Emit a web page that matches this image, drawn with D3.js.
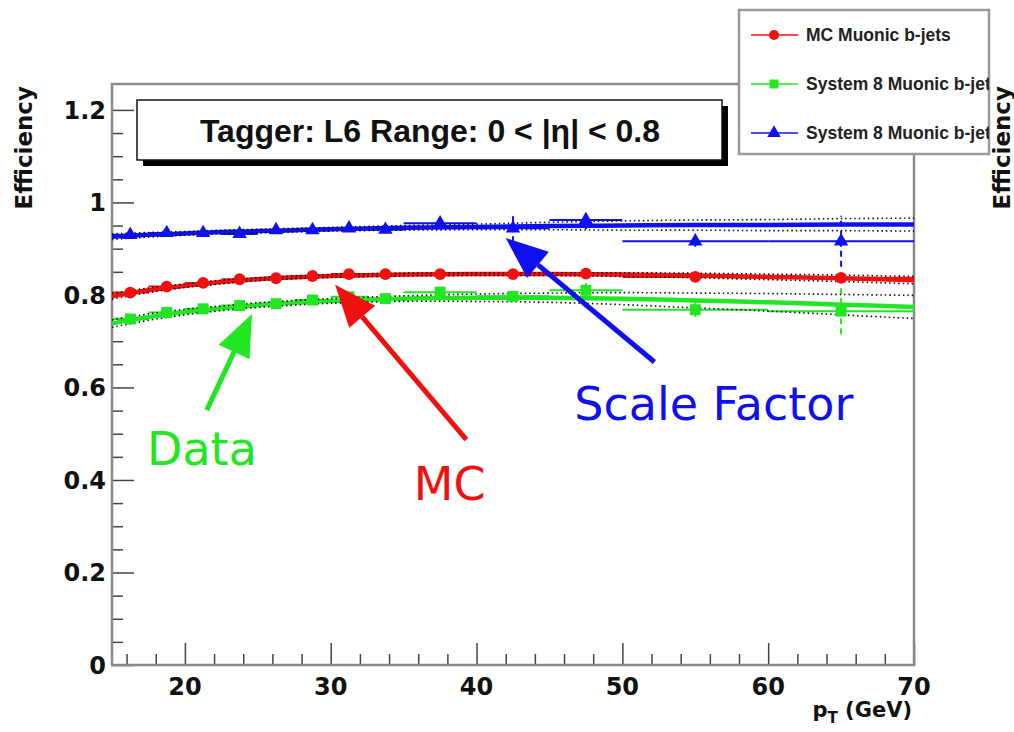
<!DOCTYPE html>
<html>
<head>
<meta charset="utf-8">
<style>
  body { margin: 0; background: #fff; }
  svg { display: block; }
  .tick-label { font: bold 24px "DejaVu Sans", sans-serif; fill: #111; }
  .axis-title { font: bold 21px "DejaVu Sans", sans-serif; fill: #111; }
</style>
</head>
<body>
<svg width="1014" height="732"></svg>
<script src="https://cdn.jsdelivr.net/npm/d3@7"></script>
<script>
// bin centres and half widths (GeV)
var ptX    = [16.25, 18.75, 21.25, 23.75, 26.25, 28.75, 31.25, 33.75, 37.5, 42.5, 47.5, 55, 65];
var ptXErr = [1.25, 1.25, 1.25, 1.25, 1.25, 1.25, 1.25, 1.25, 2.5, 2.5, 2.5, 5, 5];

var mcEff   = [0.805, 0.818, 0.826, 0.834, 0.836, 0.841, 0.845, 0.845, 0.845, 0.845, 0.846, 0.839, 0.837];
var mcErr   = [0.004, 0.004, 0.004, 0.004, 0.004, 0.004, 0.004, 0.004, 0.004, 0.005, 0.005, 0.006, 0.008];
var dataEff = [0.748, 0.762, 0.770, 0.777, 0.781, 0.789, 0.796, 0.792, 0.806, 0.797, 0.810, 0.768, 0.765];
var dataErr = [0.006, 0.006, 0.006, 0.006, 0.006, 0.006, 0.007, 0.007, 0.008, 0.010, 0.015, 0.015, 0.050];
var sfEff   = [0.930, 0.934, 0.934, 0.932, 0.940, 0.940, 0.944, 0.941, 0.955, 0.944, 0.962, 0.916, 0.916];
var sfErr   = [0.007, 0.007, 0.007, 0.007, 0.007, 0.007, 0.008, 0.008, 0.012, 0.030, 0.020, 0.012, 0.055];

// fitted curves and their error bands
var fitX    = [15, 17.5, 20, 22.5, 25, 27.5, 30, 35, 40, 45, 50, 55, 60, 65, 70];
var mcFit   = [0.797, 0.810, 0.820, 0.828, 0.834, 0.838, 0.841, 0.844, 0.845, 0.845, 0.844, 0.842, 0.839, 0.836, 0.832];
var dataFit = [0.738, 0.752, 0.763, 0.771, 0.778, 0.783, 0.787, 0.792, 0.794, 0.794, 0.792, 0.788, 0.784, 0.779, 0.774];
var sfFit   = [0.926, 0.930, 0.933, 0.936, 0.938, 0.940, 0.942, 0.945, 0.947, 0.949, 0.950, 0.951, 0.951, 0.952, 0.952];
var mcBand   = [0.006, 0.005, 0.004, 0.004, 0.003, 0.003, 0.003, 0.003, 0.003, 0.003, 0.004, 0.005, 0.006, 0.007, 0.008];
var dataBand = [0.008, 0.007, 0.006, 0.005, 0.005, 0.005, 0.005, 0.006, 0.008, 0.010, 0.013, 0.016, 0.019, 0.022, 0.025];
var sfBand   = [0.006, 0.005, 0.004, 0.004, 0.004, 0.004, 0.004, 0.005, 0.006, 0.008, 0.010, 0.011, 0.012, 0.013, 0.014];

var xTicks = [20, 30, 40, 50, 60, 70];
var yTicks = [0, 0.2, 0.4, 0.6, 0.8, 1, 1.2];
var yTickLabels = ["0", "0.2", "0.4", "0.6", "0.8", "1", "1.2"];

var legendNames = ["MC Muonic b-jets", "System 8 Muonic b-jet", "System 8 Muonic b-jet"];
var titleText = "Tagger: L6 Range: 0 < |\u03b7| < 0.8";

// annotations: [label, text x, text y, arrow tail x, tail y, tip x, tip y] in data units
var notes = [
  ["Data",         17.4, 0.432, 21.5, 0.551, 24.6, 0.759],
  ["MC",           35.7, 0.357, 39.3, 0.487, 30.3, 0.822],
  ["Scale Factor", 46.7, 0.530, 52.2, 0.655, 42.0, 0.923]
];

var RED = "#f01010", GREEN = "#22e622", BLUE = "#1010ee";

var svg = d3.select("svg");
var x = d3.scaleLinear().domain([15, 70]).range([112, 914]);
var y = d3.scaleLinear().domain([0, 1.256]).range([665, 84]);

svg.append("defs").append("clipPath").attr("id", "plotclip")
  .append("rect").attr("x", 112).attr("y", 84).attr("width", 802).attr("height", 581);

// axes with inside ticks (ROOT style)
var xAxis = svg.append("g").attr("transform", "translate(0,665)");
xAxis.call(d3.axisTop(x).tickValues(d3.range(16, 70, 2).filter(function(v) { return v % 10; }))
  .tickSize(11).tickFormat(""));
xAxis.append("g").call(d3.axisTop(x).tickValues(xTicks).tickSize(22).tickFormat(""));
xAxis.selectAll(".domain").remove();
xAxis.selectAll("line").attr("stroke", "#444").attr("stroke-width", 1.5);
xAxis.selectAll(".lbl").data(xTicks).enter().append("text")
  .attr("class", "tick-label").attr("text-anchor", "middle")
  .attr("x", function(d) { return x(d); }).attr("y", 30)
  .text(function(d) { return d; });

var yAxis = svg.append("g").attr("transform", "translate(112,0)");
yAxis.call(d3.axisRight(y).tickValues(d3.range(0.05, 1.25, 0.05).filter(function(v) {
  return Math.abs(v / 0.2 - Math.round(v / 0.2)) > 0.01; }))
  .tickSize(11).tickFormat(""));
yAxis.append("g").call(d3.axisRight(y).tickValues(yTicks).tickSize(22).tickFormat(""));
yAxis.selectAll(".domain").remove();
yAxis.selectAll("line").attr("stroke", "#444").attr("stroke-width", 1.5);
yAxis.selectAll(".lbl").data(yTicks).enter().append("text")
  .attr("class", "tick-label").attr("text-anchor", "end")
  .attr("x", -6).attr("y", function(d) { return y(d); }).attr("dy", "0.36em")
  .text(function(d, i) { return yTickLabels[i]; });

// frame
svg.append("rect").attr("x", 112).attr("y", 84).attr("width", 802).attr("height", 581)
  .attr("fill", "none").attr("stroke", "#8a8a8a").attr("stroke-width", 2.5);

var plot = svg.append("g").attr("clip-path", "url(#plotclip)");

function curve(vals, off) {
  return d3.line().curve(d3.curveCatmullRom)
    .x(function(d, i) { return x(fitX[i]); })
    .y(function(d, i) { return y(d + (off ? off[i] : 0)); })(vals);
}
function neg(a) { return a.map(function(v) { return -v; }); }

var series = [
  {eff: sfEff,   err: sfErr,   fit: sfFit,   band: sfBand,   color: BLUE,  shape: d3.symbolTriangle, size: 90,  dash: "6,4"},
  {eff: mcEff,   err: mcErr,   fit: mcFit,   band: mcBand,   color: RED,   shape: d3.symbolCircle,   size: 110, dash: null},
  {eff: dataEff, err: dataErr, fit: dataFit, band: dataBand, color: GREEN, shape: d3.symbolSquare,   size: 120, dash: "6,4"}
];

series.forEach(function(s) {
  // x error bars
  plot.selectAll(null).data(s.eff).enter().append("line")
    .attr("x1", function(d, i) { return x(ptX[i] - ptXErr[i]); })
    .attr("x2", function(d, i) { return x(ptX[i] + ptXErr[i]); })
    .attr("y1", function(d) { return y(d); }).attr("y2", function(d) { return y(d); })
    .attr("stroke", s.color).attr("stroke-width", 2);
  // y error bars
  plot.selectAll(null).data(s.eff).enter().append("line")
    .attr("x1", function(d, i) { return x(ptX[i]); }).attr("x2", function(d, i) { return x(ptX[i]); })
    .attr("y1", function(d, i) { return y(d - s.err[i]); })
    .attr("y2", function(d, i) { return y(d + s.err[i]); })
    .attr("stroke", s.color).attr("stroke-width", 2).attr("stroke-dasharray", s.dash);
  // fit
  plot.append("path").attr("d", curve(s.fit)).attr("fill", "none")
    .attr("stroke", s.color).attr("stroke-width", 4.5);
  // dotted error band
  [s.band, neg(s.band)].forEach(function(b) {
    plot.append("path").attr("d", curve(s.fit, b)).attr("fill", "none")
      .attr("stroke", "#111").attr("stroke-width", 1.6).attr("stroke-dasharray", "1.5,3");
  });
  // markers
  plot.selectAll(null).data(s.eff).enter().append("path")
    .attr("d", d3.symbol().type(s.shape).size(s.size))
    .attr("transform", function(d, i) { return "translate(" + x(ptX[i]) + "," + y(d) + ")"; })
    .attr("fill", s.color);
});

// annotations
notes.forEach(function(n, k) {
  var col = [GREEN, RED, BLUE][k];
  var x0 = x(n[3]), y0 = y(n[4]), x1 = x(n[5]), y1 = y(n[6]);
  var a = Math.atan2(y1 - y0, x1 - x0), L = 42, W = 17;
  var bx = x1 - L * Math.cos(a), by = y1 - L * Math.sin(a);
  svg.append("line").attr("x1", x0).attr("y1", y0).attr("x2", bx).attr("y2", by)
    .attr("stroke", col).attr("stroke-width", 5);
  svg.append("polygon").attr("fill", col).attr("points", [
    [x1, y1],
    [bx + W * Math.sin(a), by - W * Math.cos(a)],
    [bx - W * Math.sin(a), by + W * Math.cos(a)]].join(" "));
  svg.append("text").attr("x", x(n[1])).attr("y", y(n[2]))
    .style("font", "46px 'DejaVu Sans', sans-serif").attr("fill", col).text(n[0]);
});

// title box
svg.append("rect").attr("x", 143).attr("y", 106).attr("width", 585).attr("height", 60).attr("fill", "#000");
svg.append("rect").attr("x", 137).attr("y", 100).attr("width", 585).attr("height", 60)
  .attr("fill", "#fff").attr("stroke", "#111").attr("stroke-width", 1.5);
svg.append("text").attr("x", 430).attr("y", 142).attr("text-anchor", "middle")
  .style("font", "bold 32px 'Liberation Sans', Arial, sans-serif").attr("fill", "#111").text(titleText);

// axis titles
svg.append("text").attr("class", "axis-title").attr("text-anchor", "end").style("font-size", "23px")
  .attr("transform", "translate(32,86) rotate(-90)").text("Efficiency");
svg.append("text").attr("class", "axis-title").attr("text-anchor", "end").style("font-size", "23px")
  .attr("transform", "translate(1010,86) rotate(-90)").text("Efficiency");
var xt = svg.append("text").attr("class", "axis-title").attr("text-anchor", "end")
  .attr("x", 912).attr("y", 717);
xt.append("tspan").text("p");
xt.append("tspan").attr("dy", 6).style("font-size", "15px").text("T");
xt.append("tspan").attr("dy", -6).text(" (GeV)");

// legend
svg.append("defs").append("clipPath").attr("id", "legclip")
  .append("rect").attr("x", 739).attr("y", 10).attr("width", 250).attr("height", 144);
svg.append("rect").attr("x", 739).attr("y", 10).attr("width", 250).attr("height", 144)
  .attr("fill", "#fff").attr("stroke", "#999").attr("stroke-width", 2.5);
var leg = svg.append("g").attr("clip-path", "url(#legclip)");
var legColors = [RED, GREEN, BLUE];
var legShapes = [d3.symbolCircle, d3.symbolSquare, d3.symbolTriangle];
var legRow = d3.scaleLinear().domain([0, 2]).range([35, 133]);
legendNames.forEach(function(name, i) {
  var yy = legRow(i);
  leg.append("line").attr("x1", 751).attr("x2", 798).attr("y1", yy).attr("y2", yy)
    .attr("stroke", legColors[i]).attr("stroke-width", 1.5);
  leg.append("path").attr("d", d3.symbol().type(legShapes[i]).size(80))
    .attr("transform", "translate(774," + yy + ")").attr("fill", legColors[i]);
  leg.append("text").attr("x", 806).attr("y", yy + 6)
    .style("font", "bold 17.5px 'Liberation Sans', Arial, sans-serif").attr("fill", "#222").text(name);
});
</script>
</body>
</html>
